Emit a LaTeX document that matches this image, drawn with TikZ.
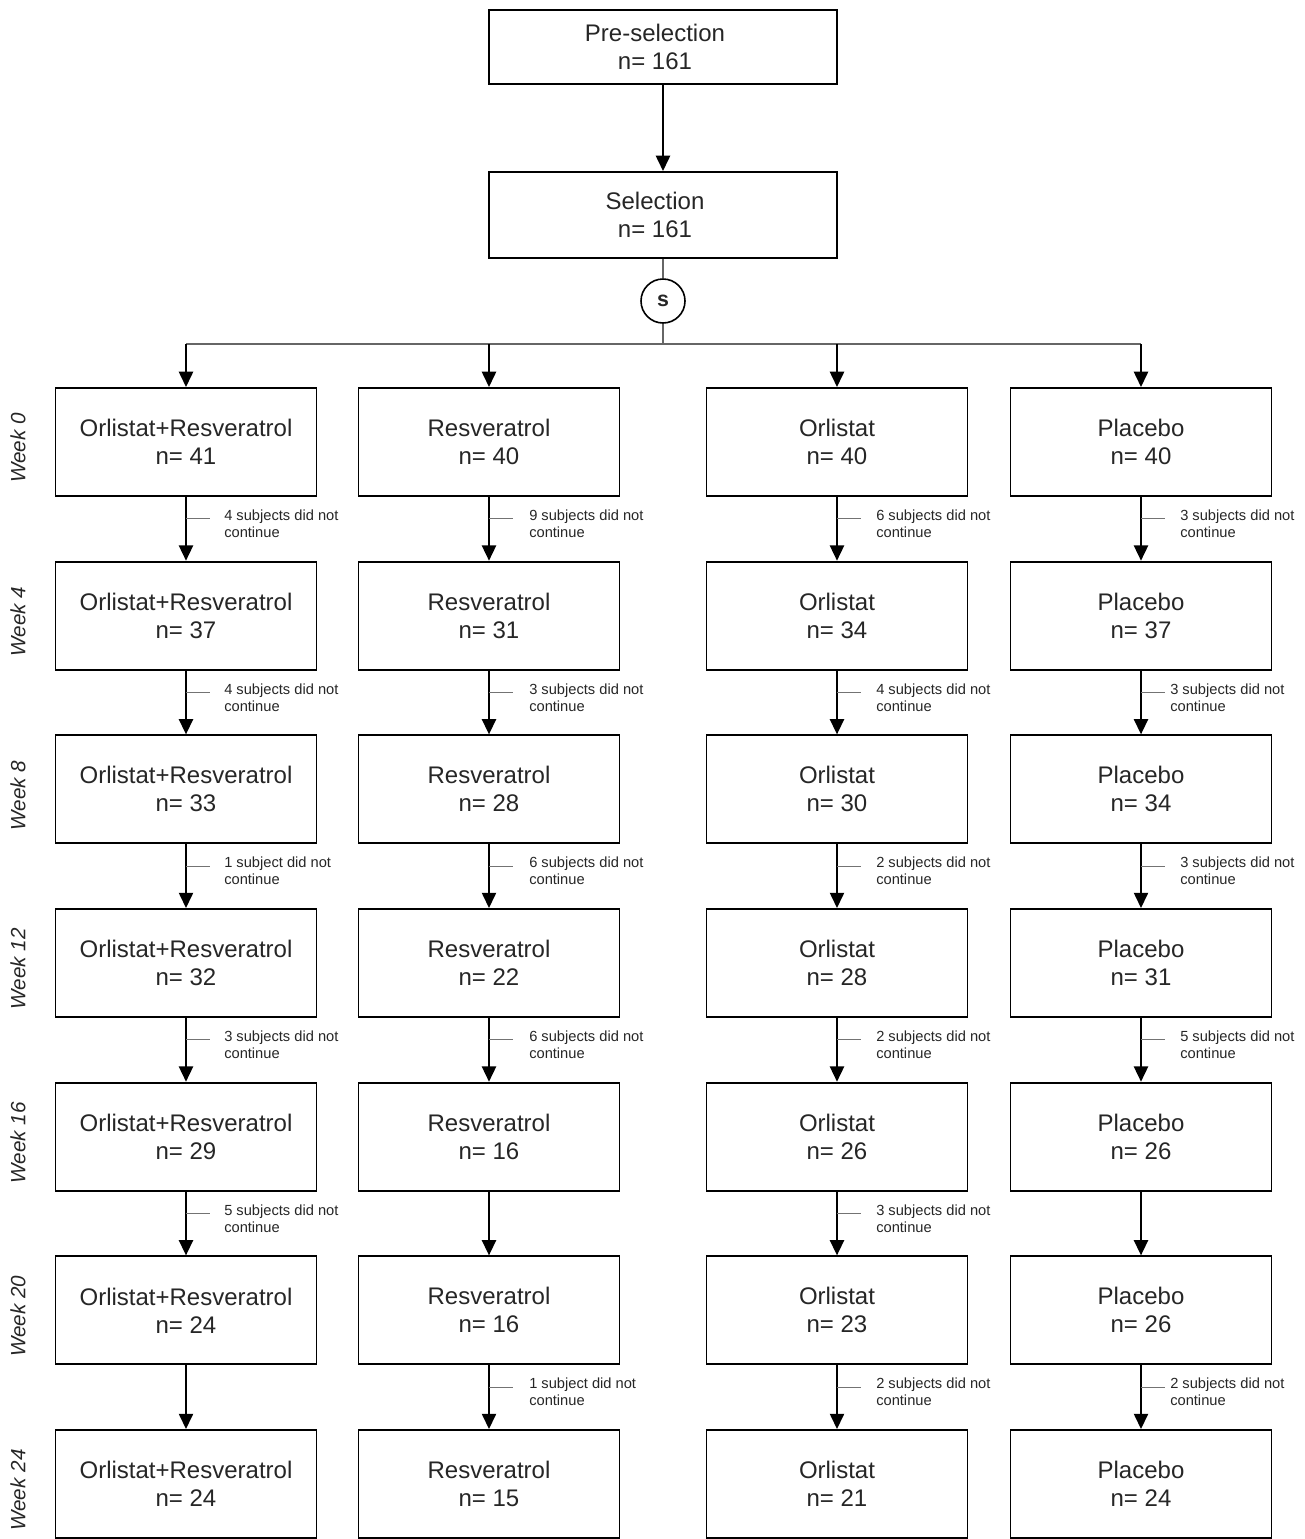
\documentclass[tikz,border=0pt]{standalone}
\usepackage{fontspec}
\setmainfont{Liberation Sans}
\usetikzlibrary{arrows.meta}
\begin{document}
\begin{tikzpicture}[x=0.75pt,y=-0.75pt,
  box/.style={draw=black, line width=1.4pt, minimum width=195.75pt, minimum height=81pt,
    inner sep=0pt, align=center, font=\fontsize{18}{21}\selectfont, text=black!85},
  topbox/.style={box, minimum width=261pt},
  flow/.style={line width=1.8pt, -{Triangle[width=10.5pt,length=11.5pt]}},
  thin/.style={line width=1pt, draw=black!60},
  tick/.style={line width=0.8pt, draw=black!55},
  droptext/.style={anchor=west, align=left, inner sep=0pt, font=\fontsize{11}{12.75}\selectfont, text=black!85},
  weeklabel/.style={rotate=90, font=\itshape\fontsize{15.5}{18}\selectfont, text=black!85, inner sep=0pt}
]
\useasboundingbox (0,0) rectangle (1305,1539);

% top
\node[topbox, minimum height=55.5pt] (pre) at (663,47) {Pre-selection\hspace*{12pt}\\n= 161\hspace*{12pt}};
\node[topbox, minimum height=64.5pt] (sel) at (663,215) {Selection\hspace*{12pt}\\n= 161\hspace*{12pt}};
\draw[flow] (pre.south) -- (sel.north);
\node[circle, draw=black, line width=1.2pt, minimum size=33pt, inner sep=0pt,
  font=\bfseries\fontsize{16}{18}\selectfont, text=black!85] (s) at (663,301) {s};
\draw[thin] (sel.south) -- (s.north);
\coordinate (hub) at (663,344);
\draw[thin] (s.south) -- (hub);

% grid of boxes
\foreach \c/\x/\name/\nlist in {
  1/186/Orlistat+Resveratrol/{41,37,33,32,29,24,24},
  2/489/Resveratrol/{40,31,28,22,16,16,15},
  3/837/Orlistat/{40,34,30,28,26,23,21},
  4/1141/Placebo/{40,37,34,31,26,26,24}}{
  \foreach \n [count=\r from 0] in \nlist {
    \pgfmathsetmacro{\yy}{442+173.67*\r}
    \node[box] (b\c-\r) at (\x,\yy) {\name\\n= \n};
  }
}
% week labels
\foreach \w [count=\r from 0] in {0,4,8,12,16,20,24}{
  \pgfmathsetmacro{\yy}{448+173.67*\r}
  \node[weeklabel] (wk\r) at (18,\yy) {Week \w};
}

% distribution line
\coordinate (hl) at (186,344);
\coordinate (hr) at (1141,344);
\draw[thin] (hl) -- (hr);
\foreach \c/\x in {1/186,2/489,3/837,4/1141}{
  \coordinate (d\c) at (\x,344);
  \draw[flow] (d\c) -- (b\c-0.north);
}

% vertical arrows
\foreach \c in {1,2,3,4}{
  \foreach \r [evaluate=\r as \rn using int(\r+1)] in {0,...,5}{
    \draw[flow] (b\c-\r.south) -- (b\c-\rn.north);
  }
}

% dropout labels: col, row, text, text offset
\newcommand{\dropout}[4]{%
  \coordinate (t#1-#2) at ([yshift=-16.5pt]b#1-#2.south);
  \draw[tick] (t#1-#2) -- ++(24,0);
  \node[droptext] (dt#1-#2) at ([xshift=#4*0.75pt, yshift=-20pt]b#1-#2.south) {#3\\continue};
}
\dropout{1}{0}{4 subjects did not}{38}
\dropout{1}{1}{4 subjects did not}{38}
\dropout{1}{2}{1 subject did not}{38}
\dropout{1}{3}{3 subjects did not}{38}
\dropout{1}{4}{5 subjects did not}{38}

\dropout{2}{0}{9 subjects did not}{40}
\dropout{2}{1}{3 subjects did not}{40}
\dropout{2}{2}{6 subjects did not}{40}
\dropout{2}{3}{6 subjects did not}{40}
\dropout{2}{5}{1 subject did not}{40}

\dropout{3}{0}{6 subjects did not}{39}
\dropout{3}{1}{4 subjects did not}{39}
\dropout{3}{2}{2 subjects did not}{39}
\dropout{3}{3}{2 subjects did not}{39}
\dropout{3}{4}{3 subjects did not}{39}
\dropout{3}{5}{2 subjects did not}{39}

\dropout{4}{0}{3 subjects did not}{39}
\dropout{4}{1}{3 subjects did not}{29}
\dropout{4}{2}{3 subjects did not}{39}
\dropout{4}{3}{5 subjects did not}{39}
\dropout{4}{5}{2 subjects did not}{29}
\end{tikzpicture}
\end{document}
